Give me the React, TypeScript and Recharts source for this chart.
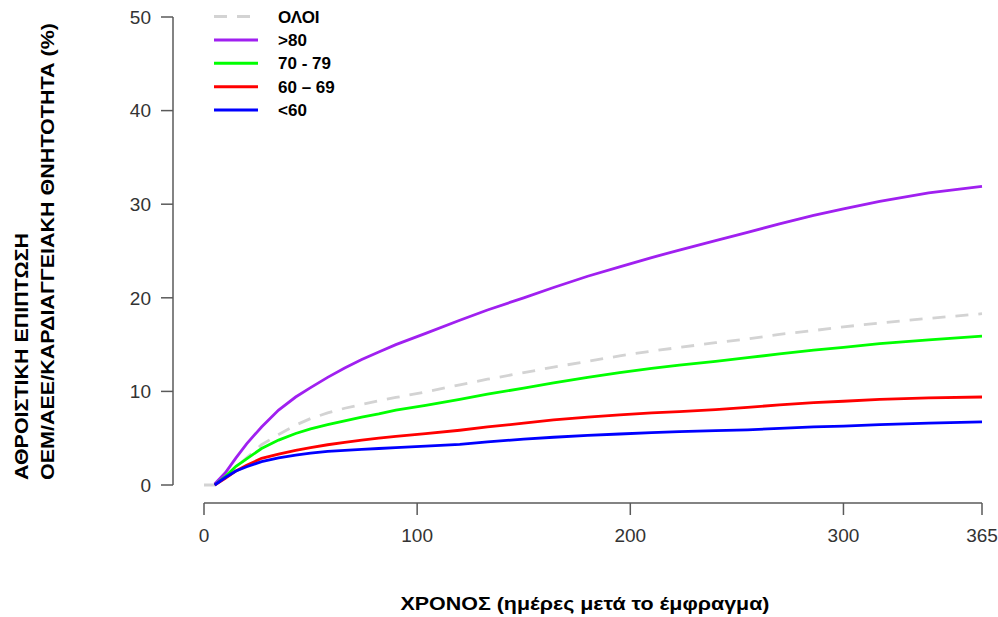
import { LineChart, Line, XAxis, YAxis, Legend, ReferenceLine, Label } from "recharts";

// ─── Data ────────────────────────────────────────────────

const days = [0, 5, 10, 15, 20, 27, 35, 43, 50, 58, 66, 74, 82, 90, 104, 120, 133, 150, 164, 180, 195, 210, 223, 240, 255, 270, 286, 300, 317, 340, 365];

const overall = [0, 0, 0.8, 1.9, 2.9, 4.3, 5.4, 6.4, 7.1, 7.7, 8.2, 8.6, 9.0, 9.35, 9.95, 10.7, 11.3, 12.0, 12.6, 13.2, 13.8, 14.3, 14.7, 15.2, 15.6, 16.1, 16.5, 16.9, 17.3, 17.8, 18.3];
const over80 = [null, 0.1, 1.3, 2.9, 4.4, 6.2, 8.0, 9.4, 10.4, 11.5, 12.5, 13.4, 14.2, 15.0, 16.2, 17.6, 18.7, 20.0, 21.1, 22.3, 23.3, 24.3, 25.1, 26.1, 27.0, 27.9, 28.8, 29.5, 30.3, 31.2, 31.9];
const age70to79 = [null, 0, 0.9, 2.0, 2.8, 3.9, 4.8, 5.5, 6.0, 6.45, 6.85, 7.25, 7.6, 8.0, 8.5, 9.15, 9.7, 10.35, 10.9, 11.5, 12.0, 12.45, 12.8, 13.2, 13.6, 14.0, 14.4, 14.7, 15.1, 15.5, 15.9];
const age60to69 = [null, 0, 0.7, 1.5, 2.1, 2.85, 3.3, 3.7, 4.0, 4.3, 4.55, 4.8, 5.0, 5.2, 5.5, 5.85, 6.2, 6.6, 6.95, 7.25, 7.5, 7.7, 7.85, 8.05, 8.3, 8.55, 8.8, 8.95, 9.15, 9.3, 9.4];
const under60 = [null, 0, 0.8, 1.5, 1.95, 2.5, 2.9, 3.2, 3.4, 3.6, 3.7, 3.8, 3.9, 4.0, 4.15, 4.35, 4.6, 4.9, 5.1, 5.3, 5.45, 5.6, 5.7, 5.8, 5.9, 6.05, 6.2, 6.3, 6.45, 6.6, 6.75];

const xTicks = [0, 100, 200, 300, 365];
const yTicks = [0, 10, 20, 30, 40, 50];

const seriesNames = ["ΟΛΟΙ", ">80", "70 - 79", "60 – 69", "<60"];

const yTitle1 = "ΑΘΡΟΙΣΤΙΚΗ ΕΠΙΠΤΩΣΗ";
const yTitle2 = "ΟΕΜ/ΑΕΕ/ΚΑΡΔΙΑΓΓΕΙΑΚΗ ΘΝΗΤΟΤΗΤΑ (%)";
const xTitle = "ΧΡΟΝΟΣ (ημέρες μετά το έμφραγμα)";

// ─── Styles ───────────────────────────────────────────────

const FONT = "'Liberation Sans', Arial, Helvetica, sans-serif";
const AXIS_COLOR = "#5a5a5a";
const series = [
  { key: "overall", name: seriesNames[0], color: "#d3d3d3", dash: "13 10" },
  { key: "over80", name: seriesNames[1], color: "#a020f0" },
  { key: "age70to79", name: seriesNames[2], color: "#00ff00" },
  { key: "age60to69", name: seriesNames[3], color: "#ff0000" },
  { key: "under60", name: seriesNames[4], color: "#0000ff" },
];

// detached R-style axes: padding pushes the data away from the axis lines
const X_PAD = 31;
const Y_PAD = 18;
const PLOT_W = 982 - 173;
const PLOT_H = 503 - 17;
const xAxisLineAt = -(X_PAD * 365) / (PLOT_W - X_PAD);
const yAxisLineAt = -(Y_PAD * 50) / (PLOT_H - Y_PAD);

const data = days.map((d, i) => ({
  day: d,
  overall: overall[i],
  over80: over80[i],
  age70to79: age70to79[i],
  age60to69: age60to69[i],
  under60: under60[i],
}));

// ─── Legend ───────────────────────────────────────────────

function KeyBox() {
  return (
    <svg width={170} height={125} style={{ display: "block", fontFamily: FONT }}>
      {series.map((s, i) => {
        const cy = 16.5 + i * 23.4;
        return (
          <g key={s.key}>
            <line
              x1={4}
              x2={48}
              y1={cy}
              y2={cy}
              stroke={s.color}
              strokeWidth={3}
              strokeDasharray={s.dash}
            />
            <text x={68} y={cy + 6} fontSize={17} fontWeight="bold" fill="#000">
              {s.name}
            </text>
          </g>
        );
      })}
    </svg>
  );
}

// ─── Main Component ───────────────────────────────────────

export default function App() {
  return (
    <div style={{ position: "absolute", left: 0, top: 0, width: 998, height: 617, background: "#fff" }}>
      <LineChart
        width={998}
        height={617}
        data={data}
        margin={{ top: 17, right: 16, bottom: 0, left: 0 }}
        style={{ fontFamily: FONT }}
      >
        <XAxis
          dataKey="day"
          type="number"
          domain={[0, 365]}
          ticks={xTicks}
          padding={{ left: X_PAD, right: 0 }}
          axisLine={false}
          tickLine={{ stroke: AXIS_COLOR, strokeWidth: 1.5 }}
          tickSize={12}
          tickMargin={14}
          tick={{ fontSize: 19, fill: "#333" }}
          height={114}
          interval={0}
        >
          <Label
            content={() => (
              <text
                x={585}
                y={610}
                textAnchor="middle"
                fontSize={18}
                fontWeight="bold"
                fill="#000"
                textLength={369}
                lengthAdjust="spacingAndGlyphs"
              >
                {xTitle}
              </text>
            )}
          />
        </XAxis>
        <YAxis
          type="number"
          domain={[0, 50]}
          ticks={yTicks}
          padding={{ top: 0, bottom: Y_PAD }}
          axisLine={false}
          tickLine={{ stroke: AXIS_COLOR, strokeWidth: 1.5 }}
          tickSize={12}
          tickMargin={10}
          tick={{ fontSize: 19, fill: "#333" }}
          width={173}
          interval={0}
        >
          <Label
            content={() => (
              <g fontSize={18} fontWeight="bold" fill="#000">
                <text
                  transform="translate(28,480) rotate(-90)"
                  textAnchor="start"
                  textLength={247}
                  lengthAdjust="spacingAndGlyphs"
                >
                  {yTitle1}
                </text>
                <text
                  transform="translate(54,480) rotate(-90)"
                  textAnchor="start"
                  textLength={457}
                  lengthAdjust="spacingAndGlyphs"
                >
                  {yTitle2}
                </text>
              </g>
            )}
          />
        </YAxis>

        <ReferenceLine
          segment={[{ x: 0, y: yAxisLineAt }, { x: 365, y: yAxisLineAt }]}
          stroke={AXIS_COLOR}
          strokeWidth={1.5}
          ifOverflow="visible"
        />
        <ReferenceLine
          segment={[{ x: xAxisLineAt, y: 0 }, { x: xAxisLineAt, y: 50 }]}
          stroke={AXIS_COLOR}
          strokeWidth={1.5}
          ifOverflow="visible"
        />

        <Legend
          layout="vertical"
          align="center"
          verticalAlign="middle"
          content={() => <KeyBox />}
          wrapperStyle={{ position: "absolute", left: 210, top: 0, width: 170, height: 125 }}
        />

        {series.map((s) => (
          <Line
            key={s.key}
            type="linear"
            dataKey={s.key}
            name={s.name}
            stroke={s.color}
            strokeWidth={2.8}
            strokeDasharray={s.dash}
            dot={false}
            activeDot={false}
            connectNulls={false}
            isAnimationActive={false}
          />
        ))}
      </LineChart>
    </div>
  );
}
